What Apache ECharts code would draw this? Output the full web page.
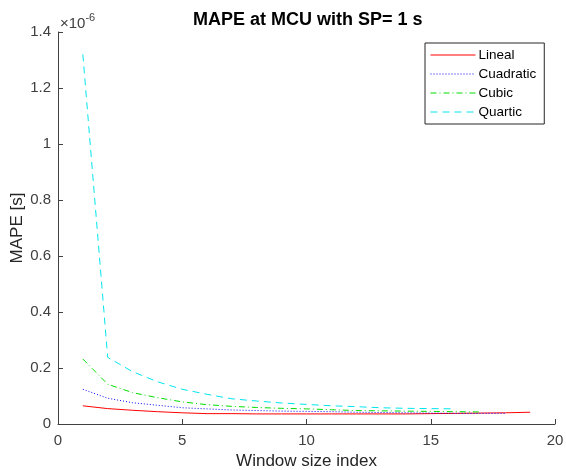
<!DOCTYPE html>
<html>
<head>
<meta charset="utf-8">
<script src="https://cdn.jsdelivr.net/npm/echarts@6/dist/echarts.min.js"></script>
<style>
  html, body { margin: 0; padding: 0; background: #fff; }
  #chart { width: 566px; height: 470px; }
</style>
</head>
<body>
<div id="chart"></div>
<script>
// values in units of 1e-6 s
const lineal = [0.065, 0.055, 0.049, 0.044, 0.040, 0.037, 0.037, 0.036, 0.036, 0.036, 0.036, 0.036, 0.036, 0.036, 0.037, 0.038, 0.039, 0.040, 0.042];
const cuadratic = [0.124, 0.092, 0.076, 0.067, 0.058, 0.054, 0.050, 0.048, 0.046, 0.045, 0.044, 0.042, 0.041, 0.040, 0.039, 0.038, 0.038, 0.038];
const cubic = [0.232, 0.142, 0.112, 0.094, 0.079, 0.069, 0.063, 0.059, 0.056, 0.054, 0.051, 0.048, 0.047, 0.046, 0.045, 0.044, 0.043];
const quartic = [1.32, 0.238, 0.187, 0.151, 0.124, 0.106, 0.090, 0.082, 0.075, 0.070, 0.065, 0.062, 0.058, 0.056, 0.055, 0.054];

const font = "'Liberation Sans', Arial, sans-serif";
const axisColor = "#404040";

// pair each value with its window size index (1, 2, 3, ...)
const withIndex = (arr) => arr.map((v, i) => [i + 1, v]);

const makeSeries = (name, data, color, type) => ({
  name: name,
  type: "line",
  data: withIndex(data),
  showSymbol: false,
  symbol: "none",
  legendIcon: "none",
  lineStyle: { color: color, width: 1, type: type },
  itemStyle: { color: color },
});

const option = {
  animation: false,
  title: {
    text: "MAPE at MCU with SP= 1 s",
    left: 188,
    top: 6,
    textStyle: { fontFamily: font, fontSize: 18, fontWeight: "bold", color: "#000" },
  },
  grid: { left: 58, right: 11, top: 32, bottom: 46, containLabel: false, outerBoundsMode: "none" },
  legend: {
    orient: "vertical",
    left: 425,
    top: 43,
    width: 119,
    padding: [5, 8, 5, 5],
    itemWidth: 45,
    itemHeight: 14,
    itemGap: 5,
    backgroundColor: "#fff",
    borderColor: "#262626",
    borderWidth: 1,
    itemStyle: { opacity: 0 },
    lineStyle: { width: 1 },
    textStyle: { fontFamily: font, fontSize: 13.5, color: "#000", padding: [0, 0, 0, -2] },
    data: ["Lineal", "Cuadratic", "Cubic", "Quartic"],
  },
  graphic: [
    {
      type: "text",
      left: 60,
      top: 12,
      style: {
        text: "{a|\u00d710}{b|-6}",
        rich: {
          a: { fontFamily: font, fontSize: 15, fill: axisColor, verticalAlign: "bottom" },
          b: { fontFamily: font, fontSize: 11, fill: axisColor, verticalAlign: "top", padding: [0, 0, 8, 0] },
        },
      },
    },
  ],
  xAxis: {
    type: "value",
    min: 0,
    max: 20,
    interval: 5,
    name: "Window size index",
    nameLocation: "middle",
    nameGap: 28,
    nameTextStyle: { fontFamily: font, fontSize: 17, color: "#262626" },
    axisLine: { lineStyle: { color: axisColor, width: 1 } },
    axisTick: { inside: true, length: 5, lineStyle: { color: axisColor } },
    axisLabel: { fontFamily: font, fontSize: 15, color: axisColor, margin: 9 },
    splitLine: { show: false },
  },
  yAxis: {
    type: "value",
    min: 0,
    max: 1.4,
    interval: 0.2,
    name: "MAPE [s]",
    nameLocation: "middle",
    nameGap: 32,
    nameMoveOverlap: false,
    nameTextStyle: { fontFamily: font, fontSize: 17, color: "#262626" },
    axisLine: { show: true, lineStyle: { color: axisColor, width: 1 } },
    axisTick: { show: true, inside: true, length: 5, lineStyle: { color: axisColor } },
    axisLabel: {
      fontFamily: font,
      fontSize: 15,
      color: axisColor,
      margin: 7,
      formatter: (v) => String(Math.round(v * 10) / 10),
    },
    splitLine: { show: false },
  },
  series: [
    makeSeries("Lineal", lineal, "#ff0000", "solid"),
    makeSeries("Cuadratic", cuadratic, "#0000ff", [1, 2]),
    makeSeries("Cubic", cubic, "#00dd00", [6, 3, 1, 3]),
    makeSeries("Quartic", quartic, "#00e5ee", [7, 5]),
  ],
};

const myChart = echarts.init(document.getElementById("chart"));
myChart.setOption(option);
window.addEventListener("resize", () => {
  myChart.resize();
});
</script>
</body>
</html>
